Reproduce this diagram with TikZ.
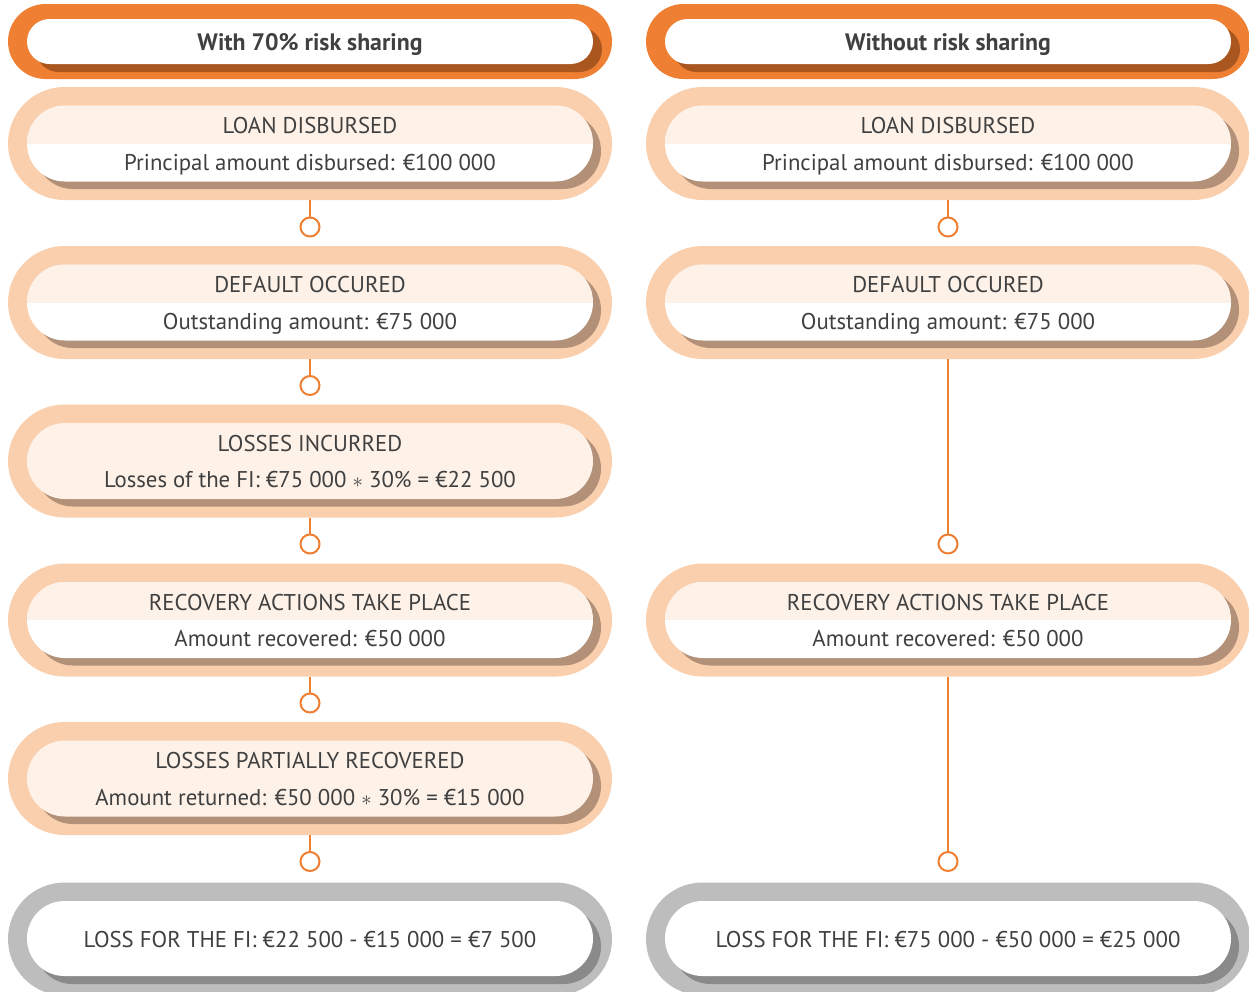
\documentclass[tikz,border=0pt]{standalone}
\usepackage{fontspec}
\setmainfont{PT Sans}
\usetikzlibrary{shapes.misc}

\definecolor{hdrorange}{HTML}{EF7F32}
\definecolor{hdrshadow}{HTML}{A9561F}
\definecolor{peach}{HTML}{FACFAE}
\definecolor{peachlight}{HTML}{FDF1E8}
\definecolor{peachshadow}{HTML}{B29178}
\definecolor{greyouter}{HTML}{BDBDBD}
\definecolor{greyshadow}{HTML}{8A8A8A}
\definecolor{txt}{HTML}{404040}

\tikzset{
  pill/.style={rounded rectangle, inner sep=0pt, draw=none},
  outerpill/.style={pill, minimum width=604pt, minimum height=113pt},
  innerpill/.style={pill, minimum width=566pt, minimum height=76pt},
  halfpeach/.style={fill=white, path picture={\fill[peachlight]
      (path picture bounding box.north west) rectangle (path picture bounding box.east);}},
  fullpeach/.style={fill=peachlight},
  label/.style={inner sep=0pt, anchor=base, text=txt,
      font=\fontsize{22.8pt}{27pt}\selectfont},
  headlabel/.style={label, font=\fontsize{23.8pt}{28pt}\selectfont\bfseries},
  conn/.style={draw=hdrorange, line width=2pt},
  knob/.style={circle, draw=hdrorange, line width=2pt, fill=white,
      minimum size=19pt, inner sep=0pt}
}

% #1 name, #2 x, #3 y, #4 inner fill style, #5 title, #6 detail
\newcommand\flowstep[6]{%
  \node[outerpill, fill=peach] (#1) at (#2,#3) {};
  \node[innerpill, fill=peachshadow] (#1s) at (#2+8,#3+7.5) {};
  \node[innerpill, #4] (#1i) at (#2,#3) {};
  \node[label] (#1t) at (#2,#3-10) {#5};
  \node[label] (#1d) at (#2,#3+26.5) {#6};
}
% #1 name, #2 x, #3 text
\newcommand\headbox[3]{%
  \node[pill, fill=hdrorange, minimum width=604pt, minimum height=75pt] (#1) at (#2,41.5) {};
  \node[pill, fill=hdrshadow, minimum width=566pt, minimum height=45pt] (#1s) at (#2+9,49.5) {};
  \node[pill, fill=white, minimum width=566pt, minimum height=45pt] (#1i) at (#2,41.5) {};
  \node[headlabel] (#1t) at (#2,50) {#3};
}
% #1 name, #2 x, #3 text
\newcommand\resultbox[3]{%
  \node[outerpill, fill=greyouter] (#1) at (#2,939) {};
  \node[pill, fill=greyshadow, minimum width=566pt, minimum height=75pt] (#1s) at (#2+8,946.5) {};
  \node[pill, fill=white, minimum width=566pt, minimum height=75pt] (#1i) at (#2,938.5) {};
  \node[label] (#1t) at (#2,947) {#3};
}

\begin{document}
\begin{tikzpicture}[x=1pt, y=-1pt]
  \useasboundingbox (0,0) rectangle (1249,991);
  \clip (0,0) rectangle (1249,991);

  % ---- with risk sharing ----
  \headbox{LH}{310}{With 70\% risk sharing}
  \flowstep{L1}{310}{143.5}{halfpeach}{LOAN DISBURSED}{Principal amount disbursed: €100 000}
  \flowstep{L2}{310}{302.5}{halfpeach}{DEFAULT OCCURED}{Outstanding amount: €75 000}
  \flowstep{L3}{310}{461}{fullpeach}{LOSSES INCURRED}{Losses of the FI: €75 000 $\ast$ 30\% = €22 500}
  \flowstep{L4}{310}{620}{halfpeach}{RECOVERY ACTIONS TAKE PLACE}{Amount recovered: €50 000}
  \flowstep{L5}{310}{778.5}{fullpeach}{LOSSES PARTIALLY RECOVERED}{Amount returned: €50 000 $\ast$ 30\% = €15 000}
  \resultbox{L6}{310}{LOSS FOR THE FI: €22 500 - €15 000 = €7 500}

  \node[knob] (lk1) at (310,227) {};
  \node[knob] (lk2) at (310,385.5) {};
  \node[knob] (lk3) at (310,544) {};
  \node[knob] (lk4) at (310,703) {};
  \node[knob] (lk5) at (310,861.5) {};
  \draw[conn] (L1.south) -- (lk1.north);
  \draw[conn] (L2.south) -- (lk2.north);
  \draw[conn] (L3.south) -- (lk3.north);
  \draw[conn] (L4.south) -- (lk4.north);
  \draw[conn] (L5.south) -- (lk5.north);

  % ---- without risk sharing ----
  \headbox{RH}{948}{Without risk sharing}
  \flowstep{R1}{948}{143.5}{halfpeach}{LOAN DISBURSED}{Principal amount disbursed: €100 000}
  \flowstep{R2}{948}{302.5}{halfpeach}{DEFAULT OCCURED}{Outstanding amount: €75 000}
  \flowstep{R4}{948}{620}{halfpeach}{RECOVERY ACTIONS TAKE PLACE}{Amount recovered: €50 000}
  \resultbox{R6}{948}{LOSS FOR THE FI: €75 000 - €50 000 = €25 000}

  \node[knob] (rk1) at (948,227) {};
  \node[knob] (rk2) at (948,544) {};
  \node[knob] (rk4) at (948,861.5) {};
  \draw[conn] (R1.south) -- (rk1.north);
  \draw[conn] (R2.south) -- (rk2.north);
  \draw[conn] (R4.south) -- (rk4.north);
\end{tikzpicture}
\end{document}
